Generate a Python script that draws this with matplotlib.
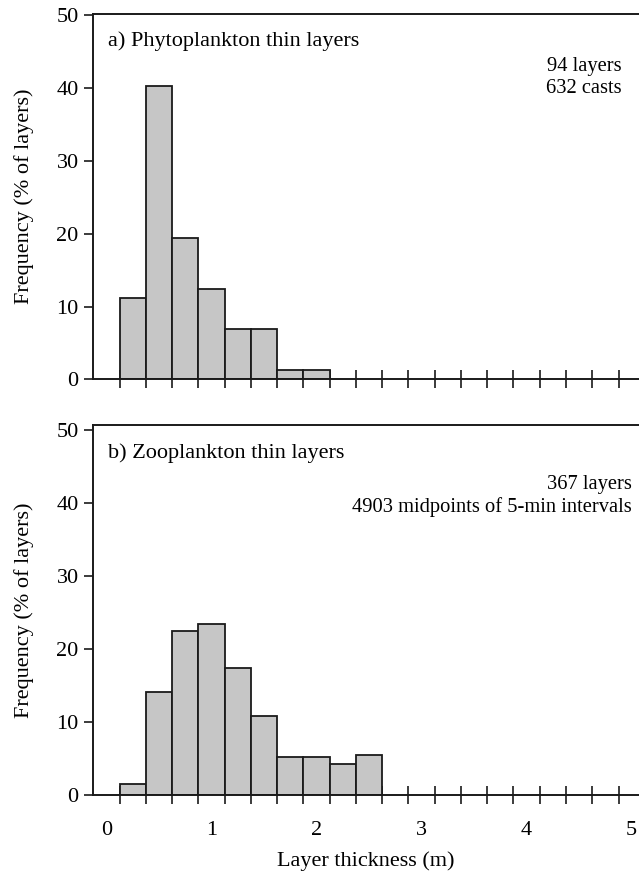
import matplotlib
matplotlib.use("Agg")
import matplotlib.pyplot as plt
import numpy as np

plt.rcParams['font.family'] = ['Liberation Serif', 'DejaVu Serif']

# Data
bin_width = 0.25
first_edge = 0.125
phyto_freq = [11.1, 40.3, 19.4, 12.4, 6.9, 6.9, 1.3, 1.3]
zoo_freq = [1.5, 14.1, 22.5, 23.4, 17.4, 10.8, 5.2, 5.2, 4.25, 5.5]
x_labels = ['0', '1', '2', '3', '4', '5']
y_ticks = [0, 10, 20, 30, 40, 50]
panel_titles = ['a) Phytoplankton thin layers', 'b) Zooplankton thin layers']
panel_notes = ['94 layers\n632 casts', '367 layers\n4903 midpoints of 5-min intervals']

W, H = 639, 871
fig = plt.figure(figsize=(W / 100, H / 100), dpi=100)

def frac(px_left, px_right, px_top, px_bottom):
    return [px_left / W, 1 - px_bottom / H, (px_right - px_left) / W, (px_bottom - px_top) / H]

ax_a = fig.add_axes(frac(93.3, 639, 13.5, 379.3))
ax_b = fig.add_axes(frac(93.3, 639, 425, 795))

edge_col = '#1a1a1a'
fill_col = '#c6c6c6'
fs = 16

def draw(ax, freq, ytop, title, note, note_x, note_y, show_labels):
    edges = first_edge + bin_width * np.arange(len(freq))
    ax.bar(edges, freq, width=bin_width, align='edge', color=fill_col,
           edgecolor=edge_col, linewidth=1.3, zorder=3)
    ax.set_xlim(-0.125, 5.07)
    ax.set_ylim(0, ytop)
    for s in ['left', 'top', 'bottom']:
        ax.spines[s].set_linewidth(1.4)
        ax.spines[s].set_color(edge_col)
        ax.spines[s].set_zorder(4)
    ax.spines['right'].set_visible(False)
    major = first_edge + bin_width * np.arange(20)
    ax.set_xticks(major)
    ax.tick_params(axis='x', which='major', direction='inout', length=12.5,
                   width=1.2, color=edge_col, labelbottom=False)
    ax.set_xticks(np.arange(len(x_labels)), minor=True)
    ax.set_xticklabels(x_labels if show_labels else [''] * len(x_labels), minor=True)
    ax.tick_params(axis='x', which='minor', length=0, pad=19, labelsize=fs)
    ax.set_yticks(y_ticks)
    ax.tick_params(axis='y', direction='out', length=6.5, width=1.2,
                   color=edge_col, labelsize=fs, pad=4)
    ax.set_ylabel('Frequency (% of layers)', fontsize=fs, labelpad=16)
    ax.text(0.027, 0.925, title, transform=ax.transAxes, fontsize=fs,
            ha='left', va='center')
    ax.text(note_x, note_y, note, transform=ax.transAxes, fontsize=14.8,
            ha='right', va='top', linespacing=1.22)

draw(ax_a, phyto_freq, 50.25, panel_titles[0], panel_notes[0],
     (621.7 - 93.3) / (639 - 93.3), 0.88, False)
draw(ax_b, zoo_freq, 50.7, panel_titles[1], panel_notes[1],
     (631.7 - 93.3) / (639 - 93.3), 0.865, True)
ax_b.set_xlabel('Layer thickness (m)', fontsize=fs, labelpad=8)

fig.savefig('out.png', dpi=100)
